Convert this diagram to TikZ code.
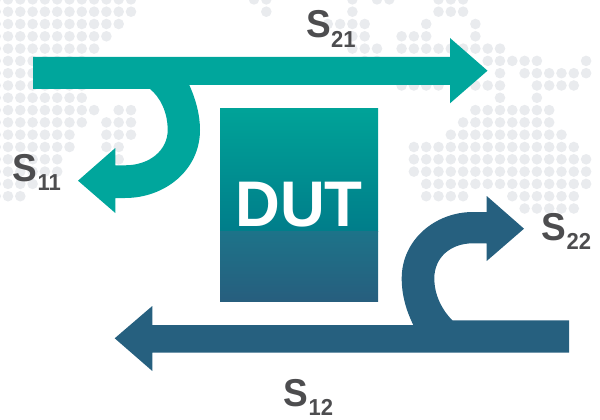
\documentclass[tikz,border=0pt]{standalone}
\usepackage{fontspec}
\setmainfont{Liberation Sans}
\definecolor{dotgray}{HTML}{E9EBEE}
\definecolor{tealarrow}{HTML}{00A69C}
\definecolor{bluearrow}{HTML}{26607F}
\definecolor{labelgray}{HTML}{4D4D4F}
\definecolor{dutA}{HTML}{00A398}
\definecolor{dutB}{HTML}{007D8A}
\definecolor{dutC}{HTML}{1D7389}
\definecolor{dutD}{HTML}{275E7E}
\newcommand{\slabel}[1]{\scalebox{1}[1.05]{\fontsize{37}{37}\selectfont S\kern0.5pt\raisebox{-9.2pt}{\fontsize{22}{22}\selectfont #1}}}
\tikzset{
  slab/.style={anchor=base west,inner sep=0pt,outer sep=0pt,text=labelgray,font=\bfseries},
  duttext/.style={anchor=base,inner sep=0pt,outer sep=0pt,text=white,font=\bfseries\fontsize{62}{62}\selectfont},
}
\begin{document}
\begin{tikzpicture}[x=1pt,y=-1pt]
\useasboundingbox (0,0) rectangle (600,420);
% dotted world map
\foreach \j/\l in {
 0/{-1,0,...,10,20,21,28,30,31,35,36,37},
 1/{-1,0,...,10,21,28,35,36,37},
 2/{-1,0,...,9,26,27,28,29,34,38},
 3/{-1,0,...,8,28,29,32,33,34,38},
 4/{-1,0,...,7,28,29,30,32,33,...,40},
 5/{-1,0,...,6,29,30,39,40,41,42,43,47},
 6/{-1,0,...,6,40,42,43,...,47},
 7/{-1,0,...,6,32,33,34,35,38,39,40,43,44,45,46},
 8/{-1,0,...,6,40,43},
 9/{-1,0,...,7,9,10,38,39,...,44},
 10/{-1,0,...,6,8,9,10,37,38,...,44},
 11/{-1,0,...,5,8,9,10,36,37,...,45},
 12/{-1,0,...,5,8,9,33,34,...,46},
 13/{-1,0,...,4,9,33,34,...,47},
 14/{-1,0,...,4,33,34,...,47},
 15/{-1,0,1,2,34,35,...,47},
 16/{-1,0,1,34,35,36,37,41,42,...,46},
 17/{42,43,...,46}}{
  \foreach \i in \l {
    \fill[dotgray] ({8+12.3*\i},{-0.6+12.3*\j}) circle[radius=5.3];
  }
}
% DUT block
\shade[top color=dutA,bottom color=dutB] (220,108) rectangle (378,231.7);
\shade[top color=dutC,bottom color=dutD] (220,231.7) rectangle (378,301.7);
\node[duttext] (dut) at (299,226) {\scalebox{1}[1.04]{DUT}};
% teal arrow S21 + S11
\fill[tealarrow] (33,57) -- (450,57) -- (450,38) -- (487.5,70.7) -- (450,103.3) -- (450,85)
  -- (189.3,85) .. controls (196,100) and (200,115) .. (200,130)
  .. controls (200,170) and (165,198) .. (125,198)
  -- (115.3,198) -- (115.3,213) -- (78,180.7) -- (115.3,148) -- (115.3,165.3) -- (125,165.3)
  .. controls (150,165.3) and (167.7,150) .. (167.7,130)
  .. controls (167.7,112) and (160,97) .. (150,89) -- (33,89) -- cycle;
% blue arrow S12 + S22
\fill[bluearrow] (569,320.3) -- (569,352.7) -- (152.3,352.7) -- (152.3,371) -- (114.7,338.3)
  -- (152.3,306) -- (152.3,325) -- (413.3,325)
  .. controls (406,310) and (401.7,295) .. (401.7,278.3)
  .. controls (401.7,240) and (435,212) .. (473,212)
  -- (486.7,212) -- (486.7,196) -- (524,228.7) -- (486.7,261) -- (486.7,243.3) -- (473,243.3)
  .. controls (450,243.3) and (434.3,258) .. (434.3,278.3)
  .. controls (434.3,295) and (442,310) .. (452.3,320.3) -- cycle;
% labels
\node[slab] (s21) at (306,38) {\slabel{21}};
\node[slab] (s11) at (12.5,181) {\slabel{11}};
\node[slab] (s22) at (541.5,240) {\slabel{22}};
\node[slab] (s12) at (283.5,406) {\slabel{12}};
\end{tikzpicture}
\end{document}
